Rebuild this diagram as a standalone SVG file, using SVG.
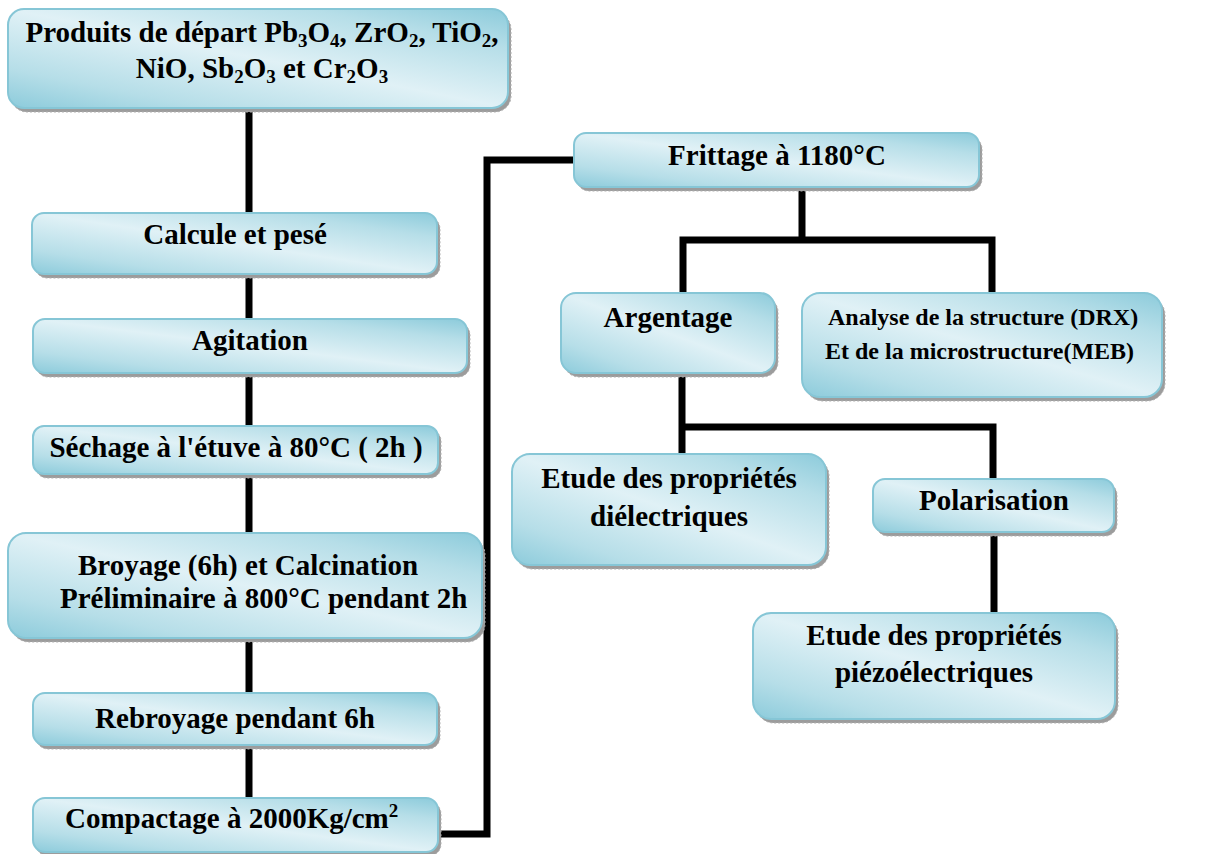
<svg xmlns="http://www.w3.org/2000/svg" width="1215" height="854" viewBox="0 0 1215 854">
<defs>
<linearGradient id="g" x1="0" y1="1" x2="1" y2="0">
<stop offset="0" stop-color="#8ccbdb"/>
<stop offset="0.2" stop-color="#b6dee8"/>
<stop offset="0.5" stop-color="#e0f1f6"/>
<stop offset="0.8" stop-color="#b6dee8"/>
<stop offset="1" stop-color="#8ccbdb"/>
</linearGradient>
</defs>
<style>
.sh{fill:#9c9c9c;stroke:#b0b0b0;stroke-width:1;stroke-dasharray:2 2}
.bx{fill:url(#g);stroke:#86c6d6;stroke-width:2}
.c{text-anchor:middle}
.ln{fill:none;stroke:#000;stroke-width:7}
</style>
<g id="connectors">
<path class="ln" d="M249 108 V798"/>
<path class="ln" d="M438 834 H487 V160 H574"/>
<path class="ln" d="M802 187 V240"/>
<path class="ln" d="M683 237 V293 M992 237 V293 M679.5 240 H995.5"/>
<path class="ln" d="M682 373 V454 M682 427 H993 V479"/>
<path class="ln" d="M994 532 V613"/>
</g>
<g font-family="Liberation Serif, Tinos, DejaVu Serif, serif" font-weight="bold" font-size="29" fill="#000">
<g id="n1">
<rect class="sh" x="11" y="13" width="500" height="99" rx="16"/>
<rect class="bx" x="8" y="9" width="500" height="99" rx="16"/>
<text x="262" y="42" class="c">Produits de départ Pb<tspan font-size="19" dy="5">3</tspan><tspan dy="-5">O</tspan><tspan font-size="19" dy="5">4</tspan><tspan dy="-5">, ZrO</tspan><tspan font-size="19" dy="5">2</tspan><tspan dy="-5">, TiO</tspan><tspan font-size="19" dy="5">2</tspan><tspan dy="-5">,</tspan></text>
<text x="262" y="78" class="c">NiO, Sb<tspan font-size="19" dy="5">2</tspan><tspan dy="-5">O</tspan><tspan font-size="19" dy="5">3</tspan><tspan dy="-5"> et Cr</tspan><tspan font-size="19" dy="5">2</tspan><tspan dy="-5">O</tspan><tspan font-size="19" dy="5">3</tspan></text>
</g>
<g id="n2">
<rect class="sh" x="35" y="217" width="405" height="61" rx="12"/>
<rect class="bx" x="32" y="213" width="405" height="61" rx="12"/>
<text x="235" y="244" class="c">Calcule et pesé</text>
</g>
<g id="n3">
<rect class="sh" x="36" y="323" width="434" height="54" rx="12"/>
<rect class="bx" x="33" y="319" width="434" height="54" rx="12"/>
<text x="250" y="350" class="c">Agitation</text>
</g>
<g id="n4">
<rect class="sh" x="36" y="430" width="405" height="48" rx="11"/>
<rect class="bx" x="33" y="426" width="405" height="48" rx="11"/>
<text x="236" y="457" class="c">Séchage à l'étuve à 80°C ( 2h )</text>
</g>
<g id="n5">
<rect class="sh" x="11" y="537" width="474" height="105" rx="18"/>
<rect class="bx" x="8" y="533" width="474" height="105" rx="18"/>
<text x="78" y="575">Broyage (6h) et Calcination</text>
<text x="60" y="608">Préliminaire à 800°C pendant 2h</text>
</g>
<g id="n6">
<rect class="sh" x="36" y="697" width="404" height="52" rx="12"/>
<rect class="bx" x="33" y="693" width="404" height="52" rx="12"/>
<text x="235" y="728" class="c">Rebroyage pendant 6h</text>
</g>
<g id="n7">
<rect class="sh" x="36" y="802" width="405" height="54" rx="12"/>
<rect class="bx" x="33" y="798" width="405" height="54" rx="12"/>
<text x="65" y="828">Compactage à 2000Kg/cm<tspan font-size="19" dy="-11">2</tspan></text>
</g>
<g id="n8">
<rect class="sh" x="577" y="137" width="405" height="54" rx="12"/>
<rect class="bx" x="574" y="133" width="405" height="54" rx="12"/>
<text x="777" y="165" class="c">Frittage à 1180°C</text>
</g>
<g id="n9">
<rect class="sh" x="564" y="297" width="214" height="80" rx="15"/>
<rect class="bx" x="561" y="293" width="214" height="80" rx="15"/>
<text x="668" y="327" class="c">Argentage</text>
</g>
<g id="n10">
<rect class="sh" x="805" y="297" width="360" height="104" rx="18"/>
<rect class="bx" x="802" y="293" width="360" height="104" rx="18"/>
<text x="828" y="325" font-size="24">Analyse de la structure (DRX)</text>
<text x="825" y="359" font-size="24">Et de la microstructure(MEB)</text>
</g>
<g id="n11">
<rect class="sh" x="515" y="458" width="314" height="111" rx="18"/>
<rect class="bx" x="512" y="454" width="314" height="111" rx="18"/>
<text x="669" y="488" class="c">Etude des propriétés</text>
<text x="669" y="526" class="c">diélectriques</text>
</g>
<g id="n12">
<rect class="sh" x="876" y="483" width="241" height="53" rx="12"/>
<rect class="bx" x="873" y="479" width="241" height="53" rx="12"/>
<text x="994" y="510" class="c">Polarisation</text>
</g>
<g id="n13">
<rect class="sh" x="756" y="617" width="362" height="106" rx="18"/>
<rect class="bx" x="753" y="613" width="362" height="106" rx="18"/>
<text x="934" y="645" class="c">Etude des propriétés</text>
<text x="934" y="682" class="c">piézoélectriques</text>
</g>
</g>
</svg>
